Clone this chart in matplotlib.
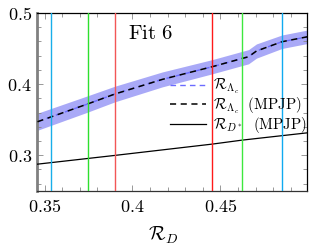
import numpy as np
import matplotlib
matplotlib.use('Agg')
from matplotlib import pyplot as plt
from matplotlib.ticker import MultipleLocator, FuncFormatter

plt.rcParams['mathtext.fontset'] = 'cm'
plt.rcParams['font.family'] = 'serif'

# R_Lambda_c central curve (and band half width)
rd_lam = [0.346, 0.3745, 0.39, 0.417, 0.4453, 0.4623, 0.466, 0.4705, 0.485, 0.4995]
rlam = [0.347, 0.372, 0.386, 0.4066, 0.4244, 0.436, 0.4385, 0.4465, 0.4596, 0.4666]
rlam_err = [0.012, 0.0115, 0.011, 0.0105, 0.010, 0.010, 0.010, 0.010, 0.0095, 0.0095]

# R_D* (MPJP)
rd_ds = [0.346, 0.39, 0.4453, 0.4623, 0.4995]
rds = [0.2873, 0.2996, 0.3155, 0.3211, 0.3314]

# vertical marker lines
vlines = [0.3538, 0.3745, 0.39, 0.4453, 0.4623, 0.485]
vcolors = ['#19aeea', '#2ee02e', '#f25656', '#ff1a1a', '#3ee83e', '#10aaf0']

fig = plt.figure(figsize=(3.15, 2.46), dpi=100)
ax = fig.add_axes([0.119, 0.225, 0.857, 0.722])

x = np.array(rd_lam)
y = np.array(rlam)
e = np.array(rlam_err)
ax.fill_between(x, y - e, y + e, color='#a9a9f7', lw=0, zorder=1)
ax.plot(x, y, color='#6b6bff', lw=1.0, dashes=(4, 3), zorder=2, label=r'$\mathcal{R}_{\Lambda_c}$')
ax.plot(x, y, color='black', lw=1.1, dashes=(4, 3), zorder=3, label=r'$\mathcal{R}_{\Lambda_c}\ \ \mathrm{(MPJP)}$')
ax.plot(rd_ds, rds, color='black', lw=0.9, zorder=3, label=r'$\mathcal{R}_{D^*}\ \ \mathrm{(MPJP)}$')

for v, c in zip(vlines, vcolors):
    ax.axvline(v, color=c, lw=1.0, zorder=4)

ax.set_xlim(0.346, 0.4995)
ax.set_ylim(0.25, 0.5)
ax.xaxis.set_major_locator(MultipleLocator(0.05))
ax.xaxis.set_minor_locator(MultipleLocator(0.01))
ax.yaxis.set_major_locator(MultipleLocator(0.1))
ax.yaxis.set_minor_locator(MultipleLocator(0.02))
fmt = FuncFormatter(lambda v, p: '$%g$' % round(v, 3))
ax.xaxis.set_major_formatter(fmt)
ax.yaxis.set_major_formatter(fmt)
ax.tick_params(which='both', direction='in', top=True, right=True, labelsize=13, color='#888888')
ax.tick_params(which='major', length=4.5, width=0.6)
ax.tick_params(which='minor', length=3, width=0.6)
ax.tick_params(axis='x', pad=5)
ax.tick_params(axis='y', pad=4)

for s in ['top', 'right']:
    ax.spines[s].set_linewidth(0.9)
ax.spines['bottom'].set_linewidth(0.9)
ax.spines['bottom'].set_color('#333333')
ax.spines['left'].set_color('#808080')
ax.spines['left'].set_linewidth(2.0)

ax.text(0.42, 0.885, r'$\mathrm{Fit\ 6}$', transform=ax.transAxes, fontsize=15, ha='center', va='center')

ax.set_xlabel(r'$\mathcal{R}_D$', fontsize=14)
ax.xaxis.set_label_coords(0.465, -0.19)

ax.legend(loc='upper left', bbox_to_anchor=(0.49, 0.64), frameon=False, fontsize=10.8,
          handlelength=2.4, handletextpad=0.5, labelspacing=-0.05, borderpad=0, borderaxespad=0)

fig.savefig('out.png', dpi=100)
